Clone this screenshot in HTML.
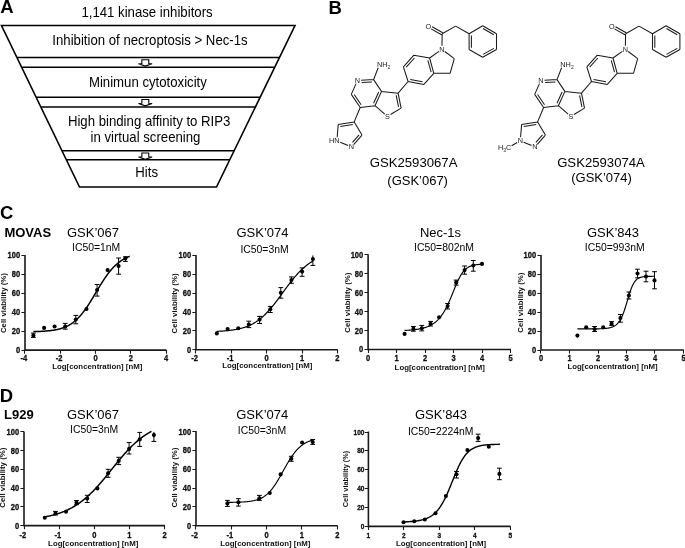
<!DOCTYPE html>
<html><head><meta charset="utf-8"><style>
html,body{margin:0;padding:0;background:#fff;}
body{width:685px;height:548px;overflow:hidden;}
svg{display:block;will-change:transform;font-family:"Liberation Sans", sans-serif;}
</style></head><body>
<svg width="685" height="548" viewBox="0 0 685 548">
<rect width="685" height="548" fill="#fff"/>
<text transform="translate(0.20,12.90) scale(1,1.04)" font-size="18.5" font-weight="bold" text-anchor="start" fill="#000" >A</text>
<text transform="translate(328.40,13.70) scale(1,1.04)" font-size="18.5" font-weight="bold" text-anchor="start" fill="#000" >B</text>
<text transform="translate(0.00,219.20) scale(1,1.04)" font-size="18.5" font-weight="bold" text-anchor="start" fill="#000" >C</text>
<text transform="translate(-0.30,401.70) scale(1,1.04)" font-size="18.5" font-weight="bold" text-anchor="start" fill="#000" >D</text>
<text transform="translate(4.40,236.60) scale(1,1.04)" font-size="13" font-weight="bold" text-anchor="start" fill="#000" >MOVAS</text>
<text transform="translate(4.00,418.90) scale(1,1.04)" font-size="13" font-weight="bold" text-anchor="start" fill="#000" >L929</text>
<polygon points="1.5,25.5 295,25.5 216.5,187 79.5,187" fill="none" stroke="#000" stroke-width="1.6" stroke-linejoin="miter"/>
<line x1="16.96" y1="57.50" x2="279.45" y2="57.50" stroke="#000" stroke-width="1.6" />
<line x1="21.69" y1="67.30" x2="274.68" y2="67.30" stroke="#000" stroke-width="1.6" />
<line x1="36.13" y1="97.20" x2="260.15" y2="97.20" stroke="#000" stroke-width="1.6" />
<line x1="40.86" y1="107.00" x2="255.39" y2="107.00" stroke="#000" stroke-width="1.6" />
<line x1="61.97" y1="150.70" x2="234.14" y2="150.70" stroke="#000" stroke-width="1.6" />
<line x1="66.36" y1="159.80" x2="229.72" y2="159.80" stroke="#000" stroke-width="1.6" />
<polygon points="141.85,59.80 148.75,59.80 148.75,63.50 152.10,63.80 145.30,66.10 138.50,63.80 141.85,63.50" fill="#fff" stroke="#000" stroke-width="1.1" stroke-linejoin="miter"/>
<polygon points="141.85,99.50 148.75,99.50 148.75,103.20 152.10,103.50 145.30,105.80 138.50,103.50 141.85,103.20" fill="#fff" stroke="#000" stroke-width="1.1" stroke-linejoin="miter"/>
<polygon points="141.85,153.00 148.75,153.00 148.75,156.70 152.10,157.00 145.30,159.30 138.50,157.00 141.85,156.70" fill="#fff" stroke="#000" stroke-width="1.1" stroke-linejoin="miter"/>
<text transform="translate(81.40,16.50) scale(1,1.04)" font-size="13.2" font-weight="normal" text-anchor="start" fill="#000" >1,141 kinase inhibitors</text>
<text transform="translate(52.30,45.00) scale(1,1.04)" font-size="13.2" font-weight="normal" text-anchor="start" fill="#000" >Inhibition of necroptosis &gt; Nec-1s</text>
<text transform="translate(88.90,86.80) scale(1,1.04)" font-size="13.2" font-weight="normal" text-anchor="start" fill="#000" >Minimun cytotoxicity</text>
<text transform="translate(67.90,126.30) scale(1,1.04)" font-size="13.2" font-weight="normal" text-anchor="start" fill="#000" >High binding affinity to RIP3</text>
<text transform="translate(90.50,142.10) scale(1,1.04)" font-size="13.2" font-weight="normal" text-anchor="start" fill="#000" >in virtual screening</text>
<text transform="translate(135.30,177.10) scale(1,1.04)" font-size="13.2" font-weight="normal" text-anchor="start" fill="#000" >Hits</text>
<path d="M432.11,26.83L442.75,32.69 M431.00,28.84L441.65,34.71 M442.20,33.70L455.60,26.10 M455.60,26.10L469.10,33.70 M469.10,33.70L482.70,25.70 M482.70,25.70L496.50,33.70 M483.06,28.57L493.83,34.81 M496.50,33.70L496.50,49.50 M496.50,49.50L482.70,57.20 M493.86,48.34L483.10,54.34 M482.70,57.20L469.10,49.50 M469.10,49.50L469.10,33.70 M471.40,47.76L471.40,35.44 M442.20,33.70L441.97,45.70 M438.96,51.38L429.60,58.00 M444.78,51.46L454.30,58.60 M454.30,58.60L450.10,73.30 M450.10,73.30L433.80,73.30 M433.80,73.30L429.60,58.00 M431.12,72.23L427.84,60.29 M429.60,58.00L413.90,55.20 M413.90,55.20L403.40,66.90 M414.46,58.02L406.27,67.15 M403.40,66.90L408.10,81.50 M408.10,81.50L423.90,84.40 M410.25,79.56L422.58,81.82 M423.90,84.40L433.80,73.30 M408.10,81.50L398.10,93.20 M398.10,93.20L401.10,108.10 M396.18,95.29L398.52,106.91 M401.10,108.10L390.57,114.52 M384.77,114.06L375.00,105.70 M375.00,105.70L381.50,91.40 M373.62,103.18L378.69,92.02 M381.50,91.40L398.10,93.20 M381.50,91.40L373.60,79.60 M373.60,79.60L378.20,67.76 M373.60,79.60L361.10,80.18 M371.94,81.98L361.70,82.46 M356.05,83.64L351.30,94.40 M351.30,94.40L360.20,107.50 M354.18,94.55L361.12,104.77 M360.20,107.50L375.00,105.70 M360.20,107.50L354.20,121.90 M354.20,121.90L338.20,124.60 M352.82,124.46L340.34,126.57 M338.20,124.60L337.19,137.21 M340.21,142.21L348.19,145.59 M353.88,144.30L362.00,135.10 M352.49,142.40L359.12,134.89 M362.00,135.10L354.20,121.90" stroke="#1a1a1a" stroke-width="1.05" fill="none" stroke-linecap="butt"/>
<text transform="translate(428.40,28.55) scale(1,1.04)" font-size="7.3" font-weight="normal" text-anchor="middle" fill="#1a1a1a" >O</text>
<text transform="translate(441.90,51.75) scale(1,1.04)" font-size="7.3" font-weight="normal" text-anchor="middle" fill="#1a1a1a" >N</text>
<text transform="translate(387.50,118.85) scale(1,1.04)" font-size="7.3" font-weight="normal" text-anchor="middle" fill="#1a1a1a" >S</text>
<text transform="translate(357.50,82.80) scale(1,1.04)" font-size="7.3" font-weight="normal" text-anchor="middle" fill="#1a1a1a" >N</text>
<text transform="translate(351.50,149.45) scale(1,1.04)" font-size="7.3" font-weight="normal" text-anchor="middle" fill="#1a1a1a" >N</text>
<text transform="translate(376.95,66.85) scale(1,1.04)" font-size="7.3" fill="#1a1a1a">NH<tspan font-size="5" dy="2">2</tspan></text>
<text transform="translate(339.45,143.25) scale(1,1.04)" font-size="7.3" font-weight="normal" text-anchor="end" fill="#1a1a1a" >HN</text>
<path d="M615.51,26.83L626.15,32.69 M614.40,28.84L625.05,34.71 M625.60,33.70L639.00,26.10 M639.00,26.10L652.50,33.70 M652.50,33.70L666.10,25.70 M666.10,25.70L679.90,33.70 M666.46,28.57L677.23,34.81 M679.90,33.70L679.90,49.50 M679.90,49.50L666.10,57.20 M677.26,48.34L666.50,54.34 M666.10,57.20L652.50,49.50 M652.50,49.50L652.50,33.70 M654.80,47.76L654.80,35.44 M625.60,33.70L625.37,45.70 M622.36,51.38L613.00,58.00 M628.18,51.46L637.70,58.60 M637.70,58.60L633.50,73.30 M633.50,73.30L617.20,73.30 M617.20,73.30L613.00,58.00 M614.52,72.23L611.24,60.29 M613.00,58.00L597.30,55.20 M597.30,55.20L586.80,66.90 M597.86,58.02L589.67,67.15 M586.80,66.90L591.50,81.50 M591.50,81.50L607.30,84.40 M593.65,79.56L605.98,81.82 M607.30,84.40L617.20,73.30 M591.50,81.50L581.50,93.20 M581.50,93.20L584.50,108.10 M579.58,95.29L581.92,106.91 M584.50,108.10L573.97,114.52 M568.17,114.06L558.40,105.70 M558.40,105.70L564.90,91.40 M557.02,103.18L562.09,92.02 M564.90,91.40L581.50,93.20 M564.90,91.40L557.00,79.60 M557.00,79.60L561.60,67.76 M557.00,79.60L544.50,80.18 M555.34,81.98L545.10,82.46 M539.45,83.64L534.70,94.40 M534.70,94.40L543.60,107.50 M537.58,94.55L544.52,104.77 M543.60,107.50L558.40,105.70 M543.60,107.50L537.60,121.90 M537.60,121.90L521.60,124.60 M536.22,124.46L523.74,126.57 M521.60,124.60L520.59,137.21 M523.61,142.21L531.59,145.59 M537.28,144.30L545.40,135.10 M535.89,142.40L542.52,134.89 M545.40,135.10L537.60,121.90" stroke="#1a1a1a" stroke-width="1.05" fill="none" stroke-linecap="butt"/>
<text transform="translate(611.80,28.55) scale(1,1.04)" font-size="7.3" font-weight="normal" text-anchor="middle" fill="#1a1a1a" >O</text>
<text transform="translate(625.30,51.75) scale(1,1.04)" font-size="7.3" font-weight="normal" text-anchor="middle" fill="#1a1a1a" >N</text>
<text transform="translate(570.90,118.85) scale(1,1.04)" font-size="7.3" font-weight="normal" text-anchor="middle" fill="#1a1a1a" >S</text>
<text transform="translate(540.90,82.80) scale(1,1.04)" font-size="7.3" font-weight="normal" text-anchor="middle" fill="#1a1a1a" >N</text>
<text transform="translate(534.90,149.45) scale(1,1.04)" font-size="7.3" font-weight="normal" text-anchor="middle" fill="#1a1a1a" >N</text>
<text transform="translate(560.35,66.85) scale(1,1.04)" font-size="7.3" fill="#1a1a1a">NH<tspan font-size="5" dy="2">2</tspan></text>
<text transform="translate(520.30,143.25) scale(1,1.04)" font-size="7.3" font-weight="normal" text-anchor="middle" fill="#1a1a1a" >N</text>
<path d="M517.16,142.56L511.61,145.67" stroke="#1a1a1a" stroke-width="1.05"/>
<text transform="translate(511.20,149.70) scale(1,1.04)" font-size="7.3" text-anchor="end" fill="#1a1a1a">H<tspan font-size="5" dy="2">3</tspan><tspan dy="-2">C</tspan></text>
<text transform="translate(369.75,166.90) scale(1,1.04)" font-size="13.15" font-weight="normal" text-anchor="start" fill="#000" >GSK2593067A</text>
<text transform="translate(387.30,184.50) scale(1,1.04)" font-size="13" font-weight="normal" text-anchor="start" fill="#000" >(GSK’067)</text>
<text transform="translate(557.15,166.90) scale(1,1.04)" font-size="13.15" font-weight="normal" text-anchor="start" fill="#000" >GSK2593074A</text>
<text transform="translate(571.20,181.80) scale(1,1.04)" font-size="13" font-weight="normal" text-anchor="start" fill="#000" >(GSK’074)</text>
<path d="M25.00,254.90L25.00,350.10L166.50,350.10" stroke="#1a1a1a" stroke-width="1.6" fill="none" stroke-linejoin="miter"/>
<path d="M21.40,350.50L25.00,350.50M21.40,331.50L25.00,331.50M21.40,312.50L25.00,312.50M21.40,293.50L25.00,293.50M21.40,274.50L25.00,274.50M21.40,255.50L25.00,255.50M24.50,350.10L24.50,353.70M60.50,350.10L60.50,353.70M95.50,350.10L95.50,353.70M130.50,350.10L130.50,353.70M166.50,350.10L166.50,353.70" stroke="#1a1a1a" stroke-width="1.1" fill="none"/>
<text transform="translate(20.10,353.09) scale(1,1.04)" font-size="8.3" font-weight="bold" text-anchor="end" textLength="4.19" lengthAdjust="spacingAndGlyphs" fill="#111" stroke="#111" stroke-width="0.3">0</text>
<text transform="translate(20.10,334.15) scale(1,1.04)" font-size="8.3" font-weight="bold" text-anchor="end" textLength="8.38" lengthAdjust="spacingAndGlyphs" fill="#111" stroke="#111" stroke-width="0.3">20</text>
<text transform="translate(20.10,315.21) scale(1,1.04)" font-size="8.3" font-weight="bold" text-anchor="end" textLength="8.38" lengthAdjust="spacingAndGlyphs" fill="#111" stroke="#111" stroke-width="0.3">40</text>
<text transform="translate(20.10,296.27) scale(1,1.04)" font-size="8.3" font-weight="bold" text-anchor="end" textLength="8.38" lengthAdjust="spacingAndGlyphs" fill="#111" stroke="#111" stroke-width="0.3">60</text>
<text transform="translate(20.10,277.33) scale(1,1.04)" font-size="8.3" font-weight="bold" text-anchor="end" textLength="8.38" lengthAdjust="spacingAndGlyphs" fill="#111" stroke="#111" stroke-width="0.3">80</text>
<text transform="translate(20.10,258.39) scale(1,1.04)" font-size="8.3" font-weight="bold" text-anchor="end" textLength="12.57" lengthAdjust="spacingAndGlyphs" fill="#111" stroke="#111" stroke-width="0.3">100</text>
<text transform="translate(23.75,361.40) scale(1,1.04)" font-size="8.3" font-weight="bold" text-anchor="middle" textLength="6.70" lengthAdjust="spacingAndGlyphs" fill="#111" stroke="#111" stroke-width="0.3">-4</text>
<text transform="translate(59.02,361.40) scale(1,1.04)" font-size="8.3" font-weight="bold" text-anchor="middle" textLength="6.70" lengthAdjust="spacingAndGlyphs" fill="#111" stroke="#111" stroke-width="0.3">-2</text>
<text transform="translate(95.55,361.40) scale(1,1.04)" font-size="8.3" font-weight="bold" text-anchor="middle" textLength="4.19" lengthAdjust="spacingAndGlyphs" fill="#111" stroke="#111" stroke-width="0.3">0</text>
<text transform="translate(130.82,361.40) scale(1,1.04)" font-size="8.3" font-weight="bold" text-anchor="middle" textLength="4.19" lengthAdjust="spacingAndGlyphs" fill="#111" stroke="#111" stroke-width="0.3">2</text>
<text transform="translate(166.10,361.40) scale(1,1.04)" font-size="8.3" font-weight="bold" text-anchor="middle" textLength="4.19" lengthAdjust="spacingAndGlyphs" fill="#111" stroke="#111" stroke-width="0.3">4</text>
<text transform="translate(52.20,369.30) scale(1,1.04)" font-size="7.3" font-weight="bold" textLength="90.2" lengthAdjust="spacingAndGlyphs" fill="#111">Log[concentration] [nM]</text>
<text transform="translate(6.00,303.10) rotate(-90) scale(1,1.04)" font-size="7.3" font-weight="bold" text-anchor="middle" textLength="60" lengthAdjust="spacingAndGlyphs" fill="#111">Cell viability (%)</text>
<path d="M33.40,331.63 L33.88,331.62 L34.37,331.61 L34.85,331.60 L35.34,331.58 L35.82,331.57 L36.30,331.55 L36.79,331.54 L37.27,331.52 L37.76,331.50 L38.24,331.48 L38.72,331.46 L39.21,331.44 L39.69,331.42 L40.17,331.40 L40.66,331.38 L41.14,331.35 L41.63,331.33 L42.11,331.30 L42.59,331.27 L43.08,331.25 L43.56,331.22 L44.05,331.18 L44.53,331.15 L45.01,331.12 L45.50,331.08 L45.98,331.04 L46.47,331.00 L46.95,330.96 L47.43,330.92 L47.92,330.87 L48.40,330.83 L48.89,330.78 L49.37,330.73 L49.85,330.67 L50.34,330.62 L50.82,330.56 L51.31,330.50 L51.79,330.43 L52.27,330.36 L52.76,330.30 L53.24,330.22 L53.72,330.15 L54.21,330.07 L54.69,329.98 L55.18,329.90 L55.66,329.81 L56.14,329.71 L56.63,329.62 L57.11,329.51 L57.60,329.41 L58.08,329.30 L58.56,329.18 L59.05,329.06 L59.53,328.93 L60.02,328.80 L60.50,328.67 L60.98,328.52 L61.47,328.38 L61.95,328.22 L62.44,328.06 L62.92,327.90 L63.40,327.72 L63.89,327.54 L64.37,327.36 L64.85,327.16 L65.34,326.96 L65.82,326.75 L66.31,326.53 L66.79,326.31 L67.27,326.07 L67.76,325.83 L68.24,325.58 L68.73,325.31 L69.21,325.04 L69.69,324.76 L70.18,324.47 L70.66,324.17 L71.15,323.86 L71.63,323.54 L72.11,323.20 L72.60,322.86 L73.08,322.51 L73.57,322.14 L74.05,321.76 L74.53,321.37 L75.02,320.97 L75.50,320.55 L75.98,320.12 L76.47,319.68 L76.95,319.23 L77.44,318.77 L77.92,318.29 L78.40,317.80 L78.89,317.29 L79.37,316.77 L79.86,316.24 L80.34,315.70 L80.82,315.14 L81.31,314.57 L81.79,313.99 L82.28,313.39 L82.76,312.79 L83.24,312.16 L83.73,311.53 L84.21,310.88 L84.70,310.23 L85.18,309.56 L85.66,308.88 L86.15,308.18 L86.63,307.48 L87.12,306.77 L87.60,306.04 L88.08,305.31 L88.57,304.57 L89.05,303.82 L89.53,303.06 L90.02,302.29 L90.50,301.51 L90.99,300.73 L91.47,299.95 L91.95,299.15 L92.44,298.35 L92.92,297.55 L93.41,296.75 L93.89,295.94 L94.37,295.13 L94.86,294.31 L95.34,293.50 L95.83,292.69 L96.31,291.87 L96.79,291.06 L97.28,290.25 L97.76,289.44 L98.25,288.63 L98.73,287.83 L99.21,287.03 L99.70,286.23 L100.18,285.44 L100.66,284.66 L101.15,283.88 L101.63,283.11 L102.12,282.34 L102.60,281.59 L103.08,280.84 L103.57,280.10 L104.05,279.37 L104.54,278.65 L105.02,277.94 L105.50,277.23 L105.99,276.54 L106.47,275.86 L106.96,275.19 L107.44,274.53 L107.92,273.89 L108.41,273.25 L108.89,272.63 L109.38,272.01 L109.86,271.41 L110.34,270.82 L110.83,270.25 L111.31,269.68 L111.79,269.13 L112.28,268.59 L112.76,268.06 L113.25,267.55 L113.73,267.04 L114.21,266.55 L114.70,266.07 L115.18,265.60 L115.67,265.15 L116.15,264.70 L116.63,264.27 L117.12,263.85 L117.60,263.43 L118.09,263.03 L118.57,262.65 L119.05,262.27 L119.54,261.90 L120.02,261.54 L120.51,261.19 L120.99,260.86 L121.47,260.53 L121.96,260.21 L122.44,259.90 L122.93,259.61 L123.41,259.32 L123.89,259.03 L124.38,258.76 L124.86,258.50 L125.34,258.24 L125.83,257.99 L126.31,257.75 L126.80,257.52 L127.28,257.30 L127.76,257.08 L128.25,256.87 L128.73,256.66 L129.22,256.47 L129.70,256.27" stroke="#000" stroke-width="1.5" fill="none" stroke-linejoin="round"/>
<path d="M33.40,333.10L33.40,337.40M31.00,337.40L35.80,337.40M31.00,333.10L35.80,333.10M65.20,323.40L65.20,329.20M62.80,329.20L67.60,329.20M62.80,323.40L67.60,323.40M75.80,315.40L75.80,323.80M73.40,323.80L78.20,323.80M73.40,315.40L78.20,315.40M97.10,284.50L97.10,296.10M94.70,296.10L99.50,296.10M94.70,284.50L99.50,284.50M118.60,258.00L118.60,274.20M116.20,274.20L121.00,274.20M116.20,258.00L121.00,258.00M125.40,256.80L125.40,261.40M123.00,261.40L127.80,261.40M123.00,256.80L127.80,256.80" stroke="#000" stroke-width="1.0" fill="none"/>
<circle cx="33.40" cy="335.40" r="2.05" fill="#000"/>
<circle cx="44.10" cy="327.90" r="2.05" fill="#000"/>
<circle cx="54.60" cy="326.50" r="2.05" fill="#000"/>
<circle cx="65.20" cy="326.50" r="2.05" fill="#000"/>
<circle cx="75.80" cy="319.50" r="2.05" fill="#000"/>
<circle cx="86.50" cy="309.00" r="2.05" fill="#000"/>
<circle cx="97.10" cy="290.00" r="2.05" fill="#000"/>
<circle cx="107.60" cy="270.10" r="2.05" fill="#000"/>
<circle cx="118.60" cy="266.10" r="2.05" fill="#000"/>
<circle cx="125.40" cy="258.40" r="2.05" fill="#000"/>
<text transform="translate(67.00,236.80) scale(1,1.04)" font-size="13" font-weight="normal" text-anchor="start" fill="#000" >GSK’067</text>
<text transform="translate(72.00,251.00) scale(1,1.04)" font-size="10.4" font-weight="normal" text-anchor="start" fill="#000" >IC50=1nM</text>
<path d="M196.00,254.90L196.00,349.80L337.80,349.80" stroke="#1a1a1a" stroke-width="1.6" fill="none" stroke-linejoin="miter"/>
<path d="M192.40,349.50L196.00,349.50M192.40,330.50L196.00,330.50M192.40,312.50L196.00,312.50M192.40,293.50L196.00,293.50M192.40,274.50L196.00,274.50M192.40,255.50L196.00,255.50M195.50,349.80L195.50,353.40M231.50,349.80L231.50,353.40M266.50,349.80L266.50,353.40M302.50,349.80L302.50,353.40M337.50,349.80L337.50,353.40" stroke="#1a1a1a" stroke-width="1.1" fill="none"/>
<text transform="translate(191.10,352.79) scale(1,1.04)" font-size="8.3" font-weight="bold" text-anchor="end" textLength="4.19" lengthAdjust="spacingAndGlyphs" fill="#111" stroke="#111" stroke-width="0.3">0</text>
<text transform="translate(191.10,333.91) scale(1,1.04)" font-size="8.3" font-weight="bold" text-anchor="end" textLength="8.38" lengthAdjust="spacingAndGlyphs" fill="#111" stroke="#111" stroke-width="0.3">20</text>
<text transform="translate(191.10,315.03) scale(1,1.04)" font-size="8.3" font-weight="bold" text-anchor="end" textLength="8.38" lengthAdjust="spacingAndGlyphs" fill="#111" stroke="#111" stroke-width="0.3">40</text>
<text transform="translate(191.10,296.15) scale(1,1.04)" font-size="8.3" font-weight="bold" text-anchor="end" textLength="8.38" lengthAdjust="spacingAndGlyphs" fill="#111" stroke="#111" stroke-width="0.3">60</text>
<text transform="translate(191.10,277.27) scale(1,1.04)" font-size="8.3" font-weight="bold" text-anchor="end" textLength="8.38" lengthAdjust="spacingAndGlyphs" fill="#111" stroke="#111" stroke-width="0.3">80</text>
<text transform="translate(191.10,258.39) scale(1,1.04)" font-size="8.3" font-weight="bold" text-anchor="end" textLength="12.57" lengthAdjust="spacingAndGlyphs" fill="#111" stroke="#111" stroke-width="0.3">100</text>
<text transform="translate(194.65,361.40) scale(1,1.04)" font-size="8.3" font-weight="bold" text-anchor="middle" textLength="6.70" lengthAdjust="spacingAndGlyphs" fill="#111" stroke="#111" stroke-width="0.3">-2</text>
<text transform="translate(230.02,361.40) scale(1,1.04)" font-size="8.3" font-weight="bold" text-anchor="middle" textLength="6.70" lengthAdjust="spacingAndGlyphs" fill="#111" stroke="#111" stroke-width="0.3">-1</text>
<text transform="translate(266.65,361.40) scale(1,1.04)" font-size="8.3" font-weight="bold" text-anchor="middle" textLength="4.19" lengthAdjust="spacingAndGlyphs" fill="#111" stroke="#111" stroke-width="0.3">0</text>
<text transform="translate(302.02,361.40) scale(1,1.04)" font-size="8.3" font-weight="bold" text-anchor="middle" textLength="4.19" lengthAdjust="spacingAndGlyphs" fill="#111" stroke="#111" stroke-width="0.3">1</text>
<text transform="translate(337.40,361.40) scale(1,1.04)" font-size="8.3" font-weight="bold" text-anchor="middle" textLength="4.19" lengthAdjust="spacingAndGlyphs" fill="#111" stroke="#111" stroke-width="0.3">2</text>
<text transform="translate(222.20,368.20) scale(1,1.04)" font-size="7.3" font-weight="bold" textLength="90.2" lengthAdjust="spacingAndGlyphs" fill="#111">Log[concentration] [nM]</text>
<text transform="translate(177.00,303.50) rotate(-90) scale(1,1.04)" font-size="7.3" font-weight="bold" text-anchor="middle" textLength="60" lengthAdjust="spacingAndGlyphs" fill="#111">Cell viability (%)</text>
<path d="M216.80,331.35 L217.28,331.33 L217.77,331.31 L218.25,331.28 L218.73,331.26 L219.21,331.23 L219.70,331.21 L220.18,331.18 L220.66,331.15 L221.15,331.12 L221.63,331.09 L222.11,331.06 L222.59,331.03 L223.08,331.00 L223.56,330.96 L224.04,330.93 L224.53,330.89 L225.01,330.85 L225.49,330.81 L225.98,330.77 L226.46,330.72 L226.94,330.68 L227.42,330.63 L227.91,330.58 L228.39,330.53 L228.87,330.48 L229.36,330.43 L229.84,330.37 L230.32,330.31 L230.80,330.25 L231.29,330.19 L231.77,330.13 L232.25,330.06 L232.74,329.99 L233.22,329.92 L233.70,329.85 L234.18,329.77 L234.67,329.69 L235.15,329.61 L235.63,329.52 L236.12,329.44 L236.60,329.35 L237.08,329.25 L237.57,329.15 L238.05,329.05 L238.53,328.95 L239.01,328.84 L239.50,328.73 L239.98,328.62 L240.46,328.50 L240.95,328.37 L241.43,328.25 L241.91,328.12 L242.39,327.98 L242.88,327.84 L243.36,327.70 L243.84,327.55 L244.33,327.39 L244.81,327.23 L245.29,327.07 L245.77,326.90 L246.26,326.73 L246.74,326.55 L247.22,326.36 L247.71,326.17 L248.19,325.97 L248.67,325.77 L249.16,325.56 L249.64,325.35 L250.12,325.13 L250.60,324.90 L251.09,324.66 L251.57,324.42 L252.05,324.17 L252.54,323.92 L253.02,323.66 L253.50,323.39 L253.98,323.11 L254.47,322.83 L254.95,322.53 L255.43,322.23 L255.92,321.93 L256.40,321.61 L256.88,321.29 L257.36,320.96 L257.85,320.62 L258.33,320.27 L258.81,319.91 L259.30,319.55 L259.78,319.17 L260.26,318.79 L260.75,318.40 L261.23,318.00 L261.71,317.59 L262.19,317.18 L262.68,316.75 L263.16,316.32 L263.64,315.88 L264.13,315.43 L264.61,314.97 L265.09,314.50 L265.57,314.02 L266.06,313.53 L266.54,313.04 L267.02,312.54 L267.51,312.03 L267.99,311.51 L268.47,310.98 L268.95,310.44 L269.44,309.90 L269.92,309.35 L270.40,308.79 L270.89,308.23 L271.37,307.65 L271.85,307.07 L272.34,306.49 L272.82,305.90 L273.30,305.30 L273.78,304.69 L274.27,304.08 L274.75,303.46 L275.23,302.84 L275.72,302.21 L276.20,301.58 L276.68,300.95 L277.16,300.31 L277.65,299.66 L278.13,299.02 L278.61,298.36 L279.10,297.71 L279.58,297.05 L280.06,296.40 L280.54,295.74 L281.03,295.08 L281.51,294.41 L281.99,293.75 L282.48,293.09 L282.96,292.42 L283.44,291.76 L283.93,291.09 L284.41,290.43 L284.89,289.77 L285.37,289.11 L285.86,288.45 L286.34,287.80 L286.82,287.15 L287.31,286.50 L287.79,285.85 L288.27,285.21 L288.75,284.57 L289.24,283.93 L289.72,283.30 L290.20,282.67 L290.69,282.05 L291.17,281.44 L291.65,280.83 L292.13,280.22 L292.62,279.62 L293.10,279.03 L293.58,278.44 L294.07,277.86 L294.55,277.28 L295.03,276.72 L295.52,276.15 L296.00,275.60 L296.48,275.05 L296.96,274.51 L297.45,273.98 L297.93,273.46 L298.41,272.94 L298.90,272.43 L299.38,271.93 L299.86,271.43 L300.34,270.95 L300.83,270.47 L301.31,270.00 L301.79,269.54 L302.28,269.08 L302.76,268.63 L303.24,268.20 L303.72,267.76 L304.21,267.34 L304.69,266.93 L305.17,266.52 L305.66,266.12 L306.14,265.73 L306.62,265.34 L307.11,264.97 L307.59,264.60 L308.07,264.24 L308.55,263.89 L309.04,263.54 L309.52,263.20 L310.00,262.87 L310.49,262.55 L310.97,262.23 L311.45,261.92 L311.93,261.62 L312.42,261.32 L312.90,261.03" stroke="#000" stroke-width="1.2" fill="none" stroke-linejoin="round"/>
<path d="M248.80,321.20L248.80,327.60M246.40,327.60L251.20,327.60M246.40,321.20L251.20,321.20M259.60,316.40L259.60,323.50M257.20,323.50L262.00,323.50M257.20,316.40L262.00,316.40M270.30,306.40L270.30,312.50M267.90,312.50L272.70,312.50M267.90,306.40L272.70,306.40M280.80,287.60L280.80,298.20M278.40,298.20L283.20,298.20M278.40,287.60L283.20,287.60M291.40,276.90L291.40,283.30M289.00,283.30L293.80,283.30M289.00,276.90L293.80,276.90M302.10,267.90L302.10,276.30M299.70,276.30L304.50,276.30M299.70,267.90L304.50,267.90M312.90,255.40L312.90,265.40M310.50,265.40L315.30,265.40" stroke="#000" stroke-width="1.0" fill="none"/>
<circle cx="216.80" cy="333.40" r="2.05" fill="#000"/>
<circle cx="227.60" cy="329.10" r="2.05" fill="#000"/>
<circle cx="238.30" cy="328.30" r="2.05" fill="#000"/>
<circle cx="248.80" cy="324.50" r="2.05" fill="#000"/>
<circle cx="259.60" cy="319.60" r="2.05" fill="#000"/>
<circle cx="270.30" cy="309.20" r="2.05" fill="#000"/>
<circle cx="280.80" cy="292.70" r="2.05" fill="#000"/>
<circle cx="291.40" cy="280.10" r="2.05" fill="#000"/>
<circle cx="302.10" cy="271.60" r="2.05" fill="#000"/>
<circle cx="312.90" cy="259.00" r="2.05" fill="#000"/>
<text transform="translate(236.50,236.60) scale(1,1.04)" font-size="13" font-weight="normal" text-anchor="start" fill="#000" >GSK’074</text>
<text transform="translate(240.40,252.60) scale(1,1.04)" font-size="10.4" font-weight="normal" text-anchor="start" fill="#000" >IC50=3nM</text>
<path d="M368.10,254.20L368.10,349.50L511.00,349.50" stroke="#1a1a1a" stroke-width="1.6" fill="none" stroke-linejoin="miter"/>
<path d="M364.50,349.50L368.10,349.50M364.50,330.50L368.10,330.50M364.50,311.50L368.10,311.50M364.50,292.50L368.10,292.50M364.50,273.50L368.10,273.50M364.50,254.50L368.10,254.50M368.50,349.50L368.50,353.10M396.50,349.50L396.50,353.10M425.50,349.50L425.50,353.10M453.50,349.50L453.50,353.10M482.50,349.50L482.50,353.10M510.50,349.50L510.50,353.10" stroke="#1a1a1a" stroke-width="1.1" fill="none"/>
<text transform="translate(363.20,352.49) scale(1,1.04)" font-size="8.3" font-weight="bold" text-anchor="end" textLength="4.19" lengthAdjust="spacingAndGlyphs" fill="#111" stroke="#111" stroke-width="0.3">0</text>
<text transform="translate(363.20,333.53) scale(1,1.04)" font-size="8.3" font-weight="bold" text-anchor="end" textLength="8.38" lengthAdjust="spacingAndGlyphs" fill="#111" stroke="#111" stroke-width="0.3">20</text>
<text transform="translate(363.20,314.57) scale(1,1.04)" font-size="8.3" font-weight="bold" text-anchor="end" textLength="8.38" lengthAdjust="spacingAndGlyphs" fill="#111" stroke="#111" stroke-width="0.3">40</text>
<text transform="translate(363.20,295.61) scale(1,1.04)" font-size="8.3" font-weight="bold" text-anchor="end" textLength="8.38" lengthAdjust="spacingAndGlyphs" fill="#111" stroke="#111" stroke-width="0.3">60</text>
<text transform="translate(363.20,276.65) scale(1,1.04)" font-size="8.3" font-weight="bold" text-anchor="end" textLength="8.38" lengthAdjust="spacingAndGlyphs" fill="#111" stroke="#111" stroke-width="0.3">80</text>
<text transform="translate(363.20,257.69) scale(1,1.04)" font-size="8.3" font-weight="bold" text-anchor="end" textLength="12.57" lengthAdjust="spacingAndGlyphs" fill="#111" stroke="#111" stroke-width="0.3">100</text>
<text transform="translate(368.10,361.40) scale(1,1.04)" font-size="8.3" font-weight="bold" text-anchor="middle" textLength="4.19" lengthAdjust="spacingAndGlyphs" fill="#111" stroke="#111" stroke-width="0.3">0</text>
<text transform="translate(396.60,361.40) scale(1,1.04)" font-size="8.3" font-weight="bold" text-anchor="middle" textLength="4.19" lengthAdjust="spacingAndGlyphs" fill="#111" stroke="#111" stroke-width="0.3">1</text>
<text transform="translate(425.10,361.40) scale(1,1.04)" font-size="8.3" font-weight="bold" text-anchor="middle" textLength="4.19" lengthAdjust="spacingAndGlyphs" fill="#111" stroke="#111" stroke-width="0.3">2</text>
<text transform="translate(453.60,361.40) scale(1,1.04)" font-size="8.3" font-weight="bold" text-anchor="middle" textLength="4.19" lengthAdjust="spacingAndGlyphs" fill="#111" stroke="#111" stroke-width="0.3">3</text>
<text transform="translate(482.10,361.40) scale(1,1.04)" font-size="8.3" font-weight="bold" text-anchor="middle" textLength="4.19" lengthAdjust="spacingAndGlyphs" fill="#111" stroke="#111" stroke-width="0.3">4</text>
<text transform="translate(510.60,361.40) scale(1,1.04)" font-size="8.3" font-weight="bold" text-anchor="middle" textLength="4.19" lengthAdjust="spacingAndGlyphs" fill="#111" stroke="#111" stroke-width="0.3">5</text>
<text transform="translate(394.60,369.50) scale(1,1.04)" font-size="7.3" font-weight="bold" textLength="90.2" lengthAdjust="spacingAndGlyphs" fill="#111">Log[concentration] [nM]</text>
<text transform="translate(350.40,302.70) rotate(-90) scale(1,1.04)" font-size="7.3" font-weight="bold" text-anchor="middle" textLength="60" lengthAdjust="spacingAndGlyphs" fill="#111">Cell viability (%)</text>
<path d="M404.60,330.42 L404.99,330.40 L405.38,330.39 L405.77,330.37 L406.16,330.35 L406.54,330.32 L406.93,330.30 L407.32,330.28 L407.71,330.26 L408.10,330.23 L408.49,330.21 L408.88,330.18 L409.27,330.15 L409.66,330.12 L410.05,330.09 L410.43,330.06 L410.82,330.03 L411.21,330.00 L411.60,329.97 L411.99,329.93 L412.38,329.89 L412.77,329.86 L413.16,329.82 L413.55,329.78 L413.93,329.73 L414.32,329.69 L414.71,329.64 L415.10,329.60 L415.49,329.55 L415.88,329.50 L416.27,329.44 L416.66,329.39 L417.05,329.33 L417.44,329.27 L417.82,329.21 L418.21,329.15 L418.60,329.08 L418.99,329.02 L419.38,328.94 L419.77,328.87 L420.16,328.80 L420.55,328.72 L420.94,328.64 L421.32,328.55 L421.71,328.46 L422.10,328.37 L422.49,328.28 L422.88,328.18 L423.27,328.08 L423.66,327.97 L424.05,327.86 L424.44,327.75 L424.83,327.63 L425.21,327.51 L425.60,327.39 L425.99,327.25 L426.38,327.12 L426.77,326.98 L427.16,326.83 L427.55,326.68 L427.94,326.52 L428.33,326.36 L428.71,326.19 L429.10,326.02 L429.49,325.84 L429.88,325.65 L430.27,325.46 L430.66,325.25 L431.05,325.04 L431.44,324.83 L431.83,324.60 L432.22,324.37 L432.60,324.13 L432.99,323.88 L433.38,323.62 L433.77,323.35 L434.16,323.08 L434.55,322.79 L434.94,322.49 L435.33,322.18 L435.72,321.86 L436.10,321.53 L436.49,321.19 L436.88,320.83 L437.27,320.47 L437.66,320.09 L438.05,319.69 L438.44,319.29 L438.83,318.87 L439.22,318.43 L439.61,317.98 L439.99,317.52 L440.38,317.04 L440.77,316.54 L441.16,316.03 L441.55,315.50 L441.94,314.96 L442.33,314.40 L442.72,313.82 L443.11,313.22 L443.49,312.61 L443.88,311.98 L444.27,311.32 L444.66,310.66 L445.05,309.97 L445.44,309.26 L445.83,308.54 L446.22,307.79 L446.61,307.03 L446.99,306.25 L447.38,305.45 L447.77,304.64 L448.16,303.81 L448.55,302.96 L448.94,302.10 L449.33,301.22 L449.72,300.32 L450.11,299.42 L450.50,298.50 L450.88,297.57 L451.27,296.63 L451.66,295.69 L452.05,294.73 L452.44,293.77 L452.83,292.81 L453.22,291.85 L453.61,290.89 L454.00,289.92 L454.38,288.97 L454.77,288.01 L455.16,287.07 L455.55,286.13 L455.94,285.21 L456.33,284.30 L456.72,283.40 L457.11,282.52 L457.50,281.66 L457.89,280.82 L458.27,280.00 L458.66,279.20 L459.05,278.42 L459.44,277.67 L459.83,276.95 L460.22,276.24 L460.61,275.57 L461.00,274.92 L461.39,274.29 L461.77,273.70 L462.16,273.13 L462.55,272.58 L462.94,272.06 L463.33,271.57 L463.72,271.10 L464.11,270.65 L464.50,270.23 L464.89,269.83 L465.28,269.45 L465.66,269.10 L466.05,268.76 L466.44,268.45 L466.83,268.15 L467.22,267.87 L467.61,267.61 L468.00,267.36 L468.39,267.13 L468.78,266.92 L469.16,266.72 L469.55,266.53 L469.94,266.35 L470.33,266.19 L470.72,266.03 L471.11,265.89 L471.50,265.75 L471.89,265.63 L472.28,265.51 L472.67,265.41 L473.05,265.31 L473.44,265.21 L473.83,265.12 L474.22,265.04 L474.61,264.97 L475.00,264.90 L475.39,264.83 L475.78,264.77 L476.17,264.72 L476.55,264.66 L476.94,264.62 L477.33,264.57 L477.72,264.53 L478.11,264.49 L478.50,264.45 L478.89,264.42 L479.28,264.39 L479.67,264.36 L480.06,264.33 L480.44,264.31 L480.83,264.29 L481.22,264.27 L481.61,264.25 L482.00,264.23" stroke="#000" stroke-width="1.15" fill="none" stroke-linejoin="round"/>
<path d="M413.40,326.50L413.40,331.20M411.00,331.20L415.80,331.20M411.00,326.50L415.80,326.50M421.80,325.40L421.80,330.90M419.40,330.90L424.20,330.90M419.40,325.40L424.20,325.40M430.60,321.40L430.60,326.00M428.20,326.00L433.00,326.00M428.20,321.40L433.00,321.40M447.60,303.50L447.60,309.00M445.20,309.00L450.00,309.00M445.20,303.50L450.00,303.50M456.20,280.10L456.20,285.10M453.80,285.10L458.60,285.10M453.80,280.10L458.60,280.10M464.60,266.00L464.60,274.20M462.20,274.20L467.00,274.20M462.20,266.00L467.00,266.00M473.30,260.50L473.30,271.20M470.90,271.20L475.70,271.20M470.90,260.50L475.70,260.50" stroke="#000" stroke-width="1.0" fill="none"/>
<circle cx="404.60" cy="333.90" r="2.05" fill="#000"/>
<circle cx="413.40" cy="328.90" r="2.05" fill="#000"/>
<circle cx="421.80" cy="328.20" r="2.05" fill="#000"/>
<circle cx="430.60" cy="323.80" r="2.05" fill="#000"/>
<circle cx="439.10" cy="317.20" r="2.05" fill="#000"/>
<circle cx="447.60" cy="306.10" r="2.05" fill="#000"/>
<circle cx="456.20" cy="282.40" r="2.05" fill="#000"/>
<circle cx="464.60" cy="270.10" r="2.05" fill="#000"/>
<circle cx="473.30" cy="265.50" r="2.05" fill="#000"/>
<circle cx="482.00" cy="263.90" r="2.05" fill="#000"/>
<text transform="translate(419.90,236.60) scale(1,1.04)" font-size="13" font-weight="normal" text-anchor="start" fill="#000" >Nec-1s</text>
<text transform="translate(414.10,251.40) scale(1,1.04)" font-size="10.4" font-weight="normal" text-anchor="start" fill="#000" >IC50=802nM</text>
<path d="M541.00,255.00L541.00,350.00L683.90,350.00" stroke="#1a1a1a" stroke-width="1.6" fill="none" stroke-linejoin="miter"/>
<path d="M537.40,350.50L541.00,350.50M537.40,331.50L541.00,331.50M537.40,312.50L541.00,312.50M537.40,293.50L541.00,293.50M537.40,274.50L541.00,274.50M537.40,255.50L541.00,255.50M540.50,350.00L540.50,353.60M569.50,350.00L569.50,353.60M598.50,350.00L598.50,353.60M626.50,350.00L626.50,353.60M654.50,350.00L654.50,353.60M683.50,350.00L683.50,353.60" stroke="#1a1a1a" stroke-width="1.1" fill="none"/>
<text transform="translate(536.10,352.99) scale(1,1.04)" font-size="8.3" font-weight="bold" text-anchor="end" textLength="4.19" lengthAdjust="spacingAndGlyphs" fill="#111" stroke="#111" stroke-width="0.3">0</text>
<text transform="translate(536.10,334.09) scale(1,1.04)" font-size="8.3" font-weight="bold" text-anchor="end" textLength="8.38" lengthAdjust="spacingAndGlyphs" fill="#111" stroke="#111" stroke-width="0.3">20</text>
<text transform="translate(536.10,315.19) scale(1,1.04)" font-size="8.3" font-weight="bold" text-anchor="end" textLength="8.38" lengthAdjust="spacingAndGlyphs" fill="#111" stroke="#111" stroke-width="0.3">40</text>
<text transform="translate(536.10,296.29) scale(1,1.04)" font-size="8.3" font-weight="bold" text-anchor="end" textLength="8.38" lengthAdjust="spacingAndGlyphs" fill="#111" stroke="#111" stroke-width="0.3">60</text>
<text transform="translate(536.10,277.39) scale(1,1.04)" font-size="8.3" font-weight="bold" text-anchor="end" textLength="8.38" lengthAdjust="spacingAndGlyphs" fill="#111" stroke="#111" stroke-width="0.3">80</text>
<text transform="translate(536.10,258.49) scale(1,1.04)" font-size="8.3" font-weight="bold" text-anchor="end" textLength="12.57" lengthAdjust="spacingAndGlyphs" fill="#111" stroke="#111" stroke-width="0.3">100</text>
<text transform="translate(541.00,361.40) scale(1,1.04)" font-size="8.3" font-weight="bold" text-anchor="middle" textLength="4.19" lengthAdjust="spacingAndGlyphs" fill="#111" stroke="#111" stroke-width="0.3">0</text>
<text transform="translate(569.50,361.40) scale(1,1.04)" font-size="8.3" font-weight="bold" text-anchor="middle" textLength="4.19" lengthAdjust="spacingAndGlyphs" fill="#111" stroke="#111" stroke-width="0.3">1</text>
<text transform="translate(598.00,361.40) scale(1,1.04)" font-size="8.3" font-weight="bold" text-anchor="middle" textLength="4.19" lengthAdjust="spacingAndGlyphs" fill="#111" stroke="#111" stroke-width="0.3">2</text>
<text transform="translate(626.50,361.40) scale(1,1.04)" font-size="8.3" font-weight="bold" text-anchor="middle" textLength="4.19" lengthAdjust="spacingAndGlyphs" fill="#111" stroke="#111" stroke-width="0.3">3</text>
<text transform="translate(655.00,361.40) scale(1,1.04)" font-size="8.3" font-weight="bold" text-anchor="middle" textLength="4.19" lengthAdjust="spacingAndGlyphs" fill="#111" stroke="#111" stroke-width="0.3">4</text>
<text transform="translate(683.50,361.40) scale(1,1.04)" font-size="8.3" font-weight="bold" text-anchor="middle" textLength="4.19" lengthAdjust="spacingAndGlyphs" fill="#111" stroke="#111" stroke-width="0.3">5</text>
<text transform="translate(567.50,369.40) scale(1,1.04)" font-size="7.3" font-weight="bold" textLength="90.2" lengthAdjust="spacingAndGlyphs" fill="#111">Log[concentration] [nM]</text>
<text transform="translate(522.80,302.70) rotate(-90) scale(1,1.04)" font-size="7.3" font-weight="bold" text-anchor="middle" textLength="60" lengthAdjust="spacingAndGlyphs" fill="#111">Cell viability (%)</text>
<path d="M577.40,328.94 L577.79,328.94 L578.17,328.94 L578.56,328.94 L578.95,328.94 L579.34,328.94 L579.72,328.94 L580.11,328.94 L580.50,328.94 L580.89,328.94 L581.27,328.94 L581.66,328.94 L582.05,328.94 L582.44,328.94 L582.82,328.94 L583.21,328.94 L583.60,328.94 L583.99,328.94 L584.37,328.94 L584.76,328.94 L585.15,328.94 L585.54,328.94 L585.92,328.94 L586.31,328.94 L586.70,328.93 L587.09,328.93 L587.47,328.93 L587.86,328.93 L588.25,328.93 L588.64,328.93 L589.02,328.93 L589.41,328.93 L589.80,328.92 L590.19,328.92 L590.57,328.92 L590.96,328.92 L591.35,328.92 L591.74,328.91 L592.12,328.91 L592.51,328.91 L592.90,328.91 L593.28,328.90 L593.67,328.90 L594.06,328.90 L594.45,328.89 L594.83,328.89 L595.22,328.88 L595.61,328.88 L596.00,328.87 L596.38,328.87 L596.77,328.86 L597.16,328.85 L597.55,328.85 L597.93,328.84 L598.32,328.83 L598.71,328.82 L599.10,328.81 L599.48,328.80 L599.87,328.79 L600.26,328.77 L600.65,328.76 L601.03,328.74 L601.42,328.73 L601.81,328.71 L602.20,328.69 L602.58,328.67 L602.97,328.65 L603.36,328.62 L603.75,328.60 L604.13,328.57 L604.52,328.54 L604.91,328.51 L605.30,328.47 L605.68,328.43 L606.07,328.39 L606.46,328.35 L606.85,328.30 L607.23,328.24 L607.62,328.19 L608.01,328.13 L608.39,328.06 L608.78,327.99 L609.17,327.91 L609.56,327.83 L609.94,327.74 L610.33,327.64 L610.72,327.53 L611.11,327.42 L611.49,327.30 L611.88,327.16 L612.27,327.02 L612.66,326.87 L613.04,326.70 L613.43,326.52 L613.82,326.33 L614.21,326.12 L614.59,325.89 L614.98,325.65 L615.37,325.38 L615.76,325.10 L616.14,324.80 L616.53,324.47 L616.92,324.12 L617.31,323.74 L617.69,323.33 L618.08,322.90 L618.47,322.43 L618.86,321.93 L619.24,321.39 L619.63,320.82 L620.02,320.21 L620.41,319.56 L620.79,318.87 L621.18,318.13 L621.57,317.35 L621.96,316.52 L622.34,315.65 L622.73,314.73 L623.12,313.76 L623.51,312.75 L623.89,311.69 L624.28,310.59 L624.67,309.45 L625.05,308.27 L625.44,307.05 L625.83,305.80 L626.22,304.53 L626.60,303.24 L626.99,301.94 L627.38,300.63 L627.77,299.32 L628.15,298.01 L628.54,296.72 L628.93,295.45 L629.32,294.20 L629.70,292.99 L630.09,291.81 L630.48,290.68 L630.87,289.60 L631.25,288.56 L631.64,287.58 L632.03,286.65 L632.42,285.77 L632.80,284.95 L633.19,284.19 L633.58,283.48 L633.97,282.82 L634.35,282.21 L634.74,281.65 L635.13,281.14 L635.52,280.67 L635.90,280.24 L636.29,279.85 L636.68,279.49 L637.07,279.17 L637.45,278.87 L637.84,278.61 L638.23,278.37 L638.62,278.15 L639.00,277.95 L639.39,277.78 L639.78,277.62 L640.16,277.48 L640.55,277.35 L640.94,277.23 L641.33,277.13 L641.71,277.04 L642.10,276.95 L642.49,276.88 L642.88,276.81 L643.26,276.75 L643.65,276.70 L644.04,276.65 L644.43,276.61 L644.81,276.57 L645.20,276.54 L645.59,276.51 L645.98,276.48 L646.36,276.45 L646.75,276.43 L647.14,276.41 L647.53,276.39 L647.91,276.38 L648.30,276.37 L648.69,276.35 L649.08,276.34 L649.46,276.33 L649.85,276.32 L650.24,276.31 L650.63,276.31 L651.01,276.30 L651.40,276.30 L651.79,276.29 L652.18,276.29 L652.56,276.28 L652.95,276.28 L653.34,276.28 L653.73,276.27 L654.11,276.27 L654.50,276.27" stroke="#000" stroke-width="1.15" fill="none" stroke-linejoin="round"/>
<path d="M594.60,326.50L594.60,331.50M592.20,331.50L597.00,331.50M592.20,326.50L597.00,326.50M611.60,321.60L611.60,325.40M609.20,325.40L614.00,325.40M609.20,321.60L614.00,321.60M620.40,314.50L620.40,322.20M618.00,322.20L622.80,322.20M618.00,314.50L622.80,314.50M628.90,292.00L628.90,299.00M626.50,299.00L631.30,299.00M626.50,292.00L631.30,292.00M637.50,269.20L637.50,277.80M635.10,277.80L639.90,277.80M635.10,269.20L639.90,269.20M646.00,271.20L646.00,281.80M643.60,281.80L648.40,281.80M643.60,271.20L648.40,271.20M654.50,271.70L654.50,288.80M652.10,288.80L656.90,288.80M652.10,271.70L656.90,271.70" stroke="#000" stroke-width="1.0" fill="none"/>
<circle cx="577.40" cy="335.60" r="2.05" fill="#000"/>
<circle cx="586.20" cy="327.30" r="2.05" fill="#000"/>
<circle cx="594.60" cy="329.10" r="2.05" fill="#000"/>
<circle cx="603.20" cy="327.30" r="2.05" fill="#000"/>
<circle cx="611.60" cy="323.80" r="2.05" fill="#000"/>
<circle cx="620.40" cy="318.10" r="2.05" fill="#000"/>
<circle cx="628.90" cy="295.50" r="2.05" fill="#000"/>
<circle cx="637.50" cy="273.50" r="2.05" fill="#000"/>
<circle cx="646.00" cy="276.50" r="2.05" fill="#000"/>
<circle cx="654.50" cy="280.40" r="2.05" fill="#000"/>
<text transform="translate(587.00,236.60) scale(1,1.04)" font-size="13" font-weight="normal" text-anchor="start" fill="#000" >GSK’843</text>
<text transform="translate(584.80,251.40) scale(1,1.04)" font-size="10.4" font-weight="normal" text-anchor="start" fill="#000" >IC50=993nM</text>
<path d="M24.00,431.40L24.00,525.60L165.00,525.60" stroke="#1a1a1a" stroke-width="1.6" fill="none" stroke-linejoin="miter"/>
<path d="M20.40,525.50L24.00,525.50M20.40,506.50L24.00,506.50M20.40,488.50L24.00,488.50M20.40,469.50L24.00,469.50M20.40,450.50L24.00,450.50M20.40,431.50L24.00,431.50M24.50,525.60L24.50,529.20M59.50,525.60L59.50,529.20M94.50,525.60L94.50,529.20M129.50,525.60L129.50,529.20M164.50,525.60L164.50,529.20" stroke="#1a1a1a" stroke-width="1.1" fill="none"/>
<text transform="translate(19.10,528.59) scale(1,1.04)" font-size="8.3" font-weight="bold" text-anchor="end" textLength="4.19" lengthAdjust="spacingAndGlyphs" fill="#111" stroke="#111" stroke-width="0.3">0</text>
<text transform="translate(19.10,509.85) scale(1,1.04)" font-size="8.3" font-weight="bold" text-anchor="end" textLength="8.38" lengthAdjust="spacingAndGlyphs" fill="#111" stroke="#111" stroke-width="0.3">20</text>
<text transform="translate(19.10,491.11) scale(1,1.04)" font-size="8.3" font-weight="bold" text-anchor="end" textLength="8.38" lengthAdjust="spacingAndGlyphs" fill="#111" stroke="#111" stroke-width="0.3">40</text>
<text transform="translate(19.10,472.37) scale(1,1.04)" font-size="8.3" font-weight="bold" text-anchor="end" textLength="8.38" lengthAdjust="spacingAndGlyphs" fill="#111" stroke="#111" stroke-width="0.3">60</text>
<text transform="translate(19.10,453.63) scale(1,1.04)" font-size="8.3" font-weight="bold" text-anchor="end" textLength="8.38" lengthAdjust="spacingAndGlyphs" fill="#111" stroke="#111" stroke-width="0.3">80</text>
<text transform="translate(19.10,434.89) scale(1,1.04)" font-size="8.3" font-weight="bold" text-anchor="end" textLength="12.57" lengthAdjust="spacingAndGlyphs" fill="#111" stroke="#111" stroke-width="0.3">100</text>
<text transform="translate(22.75,537.60) scale(1,1.04)" font-size="8.3" font-weight="bold" text-anchor="middle" textLength="6.70" lengthAdjust="spacingAndGlyphs" fill="#111" stroke="#111" stroke-width="0.3">-2</text>
<text transform="translate(57.90,537.60) scale(1,1.04)" font-size="8.3" font-weight="bold" text-anchor="middle" textLength="6.70" lengthAdjust="spacingAndGlyphs" fill="#111" stroke="#111" stroke-width="0.3">-1</text>
<text transform="translate(94.30,537.60) scale(1,1.04)" font-size="8.3" font-weight="bold" text-anchor="middle" textLength="4.19" lengthAdjust="spacingAndGlyphs" fill="#111" stroke="#111" stroke-width="0.3">0</text>
<text transform="translate(129.45,537.60) scale(1,1.04)" font-size="8.3" font-weight="bold" text-anchor="middle" textLength="4.19" lengthAdjust="spacingAndGlyphs" fill="#111" stroke="#111" stroke-width="0.3">1</text>
<text transform="translate(164.60,537.60) scale(1,1.04)" font-size="8.3" font-weight="bold" text-anchor="middle" textLength="4.19" lengthAdjust="spacingAndGlyphs" fill="#111" stroke="#111" stroke-width="0.3">2</text>
<text transform="translate(48.10,545.70) scale(1,1.04)" font-size="7.3" font-weight="bold" textLength="90.2" lengthAdjust="spacingAndGlyphs" fill="#111">Log[concentration] [nM]</text>
<text transform="translate(5.00,477.70) rotate(-90) scale(1,1.04)" font-size="7.3" font-weight="bold" text-anchor="middle" textLength="60" lengthAdjust="spacingAndGlyphs" fill="#111">Cell viability (%)</text>
<path d="M44.80,516.88 L45.34,516.78 L45.87,516.67 L46.41,516.57 L46.94,516.46 L47.48,516.36 L48.02,516.24 L48.55,516.13 L49.09,516.01 L49.63,515.89 L50.16,515.77 L50.70,515.65 L51.23,515.52 L51.77,515.39 L52.31,515.25 L52.84,515.12 L53.38,514.97 L53.92,514.83 L54.45,514.68 L54.99,514.53 L55.52,514.38 L56.06,514.22 L56.60,514.06 L57.13,513.90 L57.67,513.73 L58.20,513.56 L58.74,513.38 L59.28,513.21 L59.81,513.02 L60.35,512.84 L60.89,512.64 L61.42,512.45 L61.96,512.25 L62.49,512.04 L63.03,511.84 L63.57,511.62 L64.10,511.41 L64.64,511.18 L65.17,510.96 L65.71,510.73 L66.25,510.49 L66.78,510.25 L67.32,510.00 L67.86,509.75 L68.39,509.49 L68.93,509.23 L69.46,508.97 L70.00,508.69 L70.54,508.42 L71.07,508.13 L71.61,507.84 L72.15,507.55 L72.68,507.25 L73.22,506.94 L73.75,506.63 L74.29,506.31 L74.83,505.99 L75.36,505.66 L75.90,505.32 L76.43,504.98 L76.97,504.64 L77.51,504.28 L78.04,503.92 L78.58,503.55 L79.12,503.18 L79.65,502.80 L80.19,502.41 L80.72,502.02 L81.26,501.62 L81.80,501.22 L82.33,500.80 L82.87,500.38 L83.41,499.96 L83.94,499.53 L84.48,499.09 L85.01,498.64 L85.55,498.19 L86.09,497.73 L86.62,497.26 L87.16,496.79 L87.69,496.31 L88.23,495.82 L88.77,495.33 L89.30,494.83 L89.84,494.33 L90.38,493.81 L90.91,493.30 L91.45,492.77 L91.98,492.24 L92.52,491.70 L93.06,491.16 L93.59,490.61 L94.13,490.05 L94.66,489.49 L95.20,488.92 L95.74,488.35 L96.27,487.77 L96.81,487.19 L97.35,486.60 L97.88,486.00 L98.42,485.40 L98.95,484.79 L99.49,484.18 L100.03,483.57 L100.56,482.95 L101.10,482.33 L101.64,481.70 L102.17,481.07 L102.71,480.43 L103.24,479.79 L103.78,479.15 L104.32,478.50 L104.85,477.85 L105.39,477.20 L105.92,476.54 L106.46,475.89 L107.00,475.23 L107.53,474.56 L108.07,473.90 L108.61,473.24 L109.14,472.57 L109.68,471.90 L110.21,471.23 L110.75,470.57 L111.29,469.90 L111.82,469.23 L112.36,468.56 L112.89,467.89 L113.43,467.22 L113.97,466.55 L114.50,465.88 L115.04,465.22 L115.58,464.55 L116.11,463.89 L116.65,463.23 L117.18,462.57 L117.72,461.92 L118.26,461.26 L118.79,460.61 L119.33,459.96 L119.87,459.32 L120.40,458.68 L120.94,458.04 L121.47,457.41 L122.01,456.78 L122.55,456.15 L123.08,455.53 L123.62,454.91 L124.15,454.30 L124.69,453.69 L125.23,453.09 L125.76,452.49 L126.30,451.90 L126.84,451.32 L127.37,450.73 L127.91,450.16 L128.44,449.59 L128.98,449.03 L129.52,448.47 L130.05,447.92 L130.59,447.37 L131.13,446.84 L131.66,446.30 L132.20,445.78 L132.73,445.26 L133.27,444.75 L133.81,444.24 L134.34,443.74 L134.88,443.25 L135.41,442.76 L135.95,442.28 L136.49,441.81 L137.02,441.35 L137.56,440.89 L138.10,440.44 L138.63,439.99 L139.17,439.56 L139.70,439.13 L140.24,438.70 L140.78,438.29 L141.31,437.88 L141.85,437.47 L142.38,437.08 L142.92,436.69 L143.46,436.31 L143.99,435.93 L144.53,435.56 L145.07,435.20 L145.60,434.84 L146.14,434.49 L146.67,434.15 L147.21,433.81 L147.75,433.48 L148.28,433.16 L148.82,432.84 L149.36,432.53 L149.89,432.22 L150.43,431.92 L150.96,431.63 L151.50,431.34" stroke="#000" stroke-width="1.5" fill="none" stroke-linejoin="round"/>
<path d="M55.50,511.40L55.50,515.00M53.10,515.00L57.90,515.00M53.10,511.40L57.90,511.40M76.50,500.50L76.50,504.70M74.10,504.70L78.90,504.70M74.10,500.50L78.90,500.50M87.20,495.30L87.20,502.50M84.80,502.50L89.60,502.50M84.80,495.30L89.60,495.30M108.10,469.30L108.10,477.30M105.70,477.30L110.50,477.30M105.70,469.30L110.50,469.30M118.70,457.30L118.70,464.60M116.30,464.60L121.10,464.60M116.30,457.30L121.10,457.30M129.10,442.50L129.10,454.00M126.70,454.00L131.50,454.00M126.70,442.50L131.50,442.50M139.70,432.40L139.70,446.40M137.30,446.40L142.10,446.40M137.30,432.40L142.10,432.40M153.90,431.90L153.90,441.40M151.50,441.40L156.30,441.40" stroke="#000" stroke-width="1.0" fill="none"/>
<circle cx="44.80" cy="517.80" r="2.05" fill="#000"/>
<circle cx="55.50" cy="513.40" r="2.05" fill="#000"/>
<circle cx="66.00" cy="511.70" r="2.05" fill="#000"/>
<circle cx="76.50" cy="502.70" r="2.05" fill="#000"/>
<circle cx="87.20" cy="498.60" r="2.05" fill="#000"/>
<circle cx="97.40" cy="488.40" r="2.05" fill="#000"/>
<circle cx="108.10" cy="473.20" r="2.05" fill="#000"/>
<circle cx="118.70" cy="460.90" r="2.05" fill="#000"/>
<circle cx="129.10" cy="448.90" r="2.05" fill="#000"/>
<circle cx="139.70" cy="439.40" r="2.05" fill="#000"/>
<circle cx="153.90" cy="435.10" r="2.05" fill="#000"/>
<text transform="translate(67.00,419.00) scale(1,1.04)" font-size="13" font-weight="normal" text-anchor="start" fill="#000" >GSK’067</text>
<text transform="translate(70.00,433.10) scale(1,1.04)" font-size="10.4" font-weight="normal" text-anchor="start" fill="#000" >IC50=3nM</text>
<path d="M196.00,431.10L196.00,525.80L337.70,525.80" stroke="#1a1a1a" stroke-width="1.6" fill="none" stroke-linejoin="miter"/>
<path d="M192.40,525.50L196.00,525.50M192.40,506.50L196.00,506.50M192.40,488.50L196.00,488.50M192.40,469.50L196.00,469.50M192.40,450.50L196.00,450.50M192.40,431.50L196.00,431.50M195.50,525.80L195.50,529.40M231.50,525.80L231.50,529.40M266.50,525.80L266.50,529.40M301.50,525.80L301.50,529.40M337.50,525.80L337.50,529.40" stroke="#1a1a1a" stroke-width="1.1" fill="none"/>
<text transform="translate(191.10,528.79) scale(1,1.04)" font-size="8.3" font-weight="bold" text-anchor="end" textLength="4.19" lengthAdjust="spacingAndGlyphs" fill="#111" stroke="#111" stroke-width="0.3">0</text>
<text transform="translate(191.10,509.95) scale(1,1.04)" font-size="8.3" font-weight="bold" text-anchor="end" textLength="8.38" lengthAdjust="spacingAndGlyphs" fill="#111" stroke="#111" stroke-width="0.3">20</text>
<text transform="translate(191.10,491.11) scale(1,1.04)" font-size="8.3" font-weight="bold" text-anchor="end" textLength="8.38" lengthAdjust="spacingAndGlyphs" fill="#111" stroke="#111" stroke-width="0.3">40</text>
<text transform="translate(191.10,472.27) scale(1,1.04)" font-size="8.3" font-weight="bold" text-anchor="end" textLength="8.38" lengthAdjust="spacingAndGlyphs" fill="#111" stroke="#111" stroke-width="0.3">60</text>
<text transform="translate(191.10,453.43) scale(1,1.04)" font-size="8.3" font-weight="bold" text-anchor="end" textLength="8.38" lengthAdjust="spacingAndGlyphs" fill="#111" stroke="#111" stroke-width="0.3">80</text>
<text transform="translate(191.10,434.59) scale(1,1.04)" font-size="8.3" font-weight="bold" text-anchor="end" textLength="12.57" lengthAdjust="spacingAndGlyphs" fill="#111" stroke="#111" stroke-width="0.3">100</text>
<text transform="translate(194.55,537.60) scale(1,1.04)" font-size="8.3" font-weight="bold" text-anchor="middle" textLength="6.70" lengthAdjust="spacingAndGlyphs" fill="#111" stroke="#111" stroke-width="0.3">-2</text>
<text transform="translate(229.92,537.60) scale(1,1.04)" font-size="8.3" font-weight="bold" text-anchor="middle" textLength="6.70" lengthAdjust="spacingAndGlyphs" fill="#111" stroke="#111" stroke-width="0.3">-1</text>
<text transform="translate(266.55,537.60) scale(1,1.04)" font-size="8.3" font-weight="bold" text-anchor="middle" textLength="4.19" lengthAdjust="spacingAndGlyphs" fill="#111" stroke="#111" stroke-width="0.3">0</text>
<text transform="translate(301.93,537.60) scale(1,1.04)" font-size="8.3" font-weight="bold" text-anchor="middle" textLength="4.19" lengthAdjust="spacingAndGlyphs" fill="#111" stroke="#111" stroke-width="0.3">1</text>
<text transform="translate(337.30,537.60) scale(1,1.04)" font-size="8.3" font-weight="bold" text-anchor="middle" textLength="4.19" lengthAdjust="spacingAndGlyphs" fill="#111" stroke="#111" stroke-width="0.3">2</text>
<text transform="translate(220.20,545.70) scale(1,1.04)" font-size="7.3" font-weight="bold" textLength="90.2" lengthAdjust="spacingAndGlyphs" fill="#111">Log[concentration] [nM]</text>
<text transform="translate(177.00,477.60) rotate(-90) scale(1,1.04)" font-size="7.3" font-weight="bold" text-anchor="middle" textLength="60" lengthAdjust="spacingAndGlyphs" fill="#111">Cell viability (%)</text>
<path d="M227.40,502.36 L227.83,502.36 L228.26,502.36 L228.69,502.35 L229.11,502.35 L229.54,502.35 L229.97,502.34 L230.40,502.34 L230.83,502.33 L231.26,502.33 L231.69,502.32 L232.12,502.31 L232.54,502.31 L232.97,502.30 L233.40,502.29 L233.83,502.29 L234.26,502.28 L234.69,502.27 L235.12,502.26 L235.54,502.25 L235.97,502.24 L236.40,502.23 L236.83,502.22 L237.26,502.21 L237.69,502.19 L238.12,502.18 L238.54,502.17 L238.97,502.15 L239.40,502.14 L239.83,502.12 L240.26,502.10 L240.69,502.09 L241.12,502.07 L241.55,502.05 L241.97,502.03 L242.40,502.00 L242.83,501.98 L243.26,501.95 L243.69,501.93 L244.12,501.90 L244.55,501.87 L244.97,501.84 L245.40,501.81 L245.83,501.77 L246.26,501.74 L246.69,501.70 L247.12,501.66 L247.55,501.61 L247.97,501.57 L248.40,501.52 L248.83,501.47 L249.26,501.42 L249.69,501.36 L250.12,501.30 L250.55,501.24 L250.98,501.18 L251.40,501.11 L251.83,501.04 L252.26,500.96 L252.69,500.88 L253.12,500.80 L253.55,500.71 L253.98,500.62 L254.40,500.52 L254.83,500.42 L255.26,500.31 L255.69,500.20 L256.12,500.08 L256.55,499.96 L256.98,499.82 L257.41,499.69 L257.83,499.54 L258.26,499.39 L258.69,499.23 L259.12,499.07 L259.55,498.90 L259.98,498.71 L260.41,498.52 L260.83,498.32 L261.26,498.12 L261.69,497.90 L262.12,497.67 L262.55,497.43 L262.98,497.18 L263.41,496.93 L263.83,496.66 L264.26,496.37 L264.69,496.08 L265.12,495.78 L265.55,495.46 L265.98,495.13 L266.41,494.79 L266.84,494.43 L267.26,494.06 L267.69,493.68 L268.12,493.28 L268.55,492.87 L268.98,492.44 L269.41,492.00 L269.84,491.54 L270.26,491.07 L270.69,490.59 L271.12,490.09 L271.55,489.58 L271.98,489.05 L272.41,488.50 L272.84,487.94 L273.26,487.37 L273.69,486.78 L274.12,486.18 L274.55,485.56 L274.98,484.93 L275.41,484.29 L275.84,483.63 L276.27,482.96 L276.69,482.28 L277.12,481.59 L277.55,480.88 L277.98,480.17 L278.41,479.45 L278.84,478.72 L279.27,477.98 L279.69,477.23 L280.12,476.47 L280.55,475.71 L280.98,474.95 L281.41,474.18 L281.84,473.40 L282.27,472.63 L282.69,471.85 L283.12,471.07 L283.55,470.29 L283.98,469.51 L284.41,468.74 L284.84,467.97 L285.27,467.20 L285.70,466.43 L286.12,465.67 L286.55,464.91 L286.98,464.17 L287.41,463.43 L287.84,462.69 L288.27,461.97 L288.70,461.25 L289.12,460.55 L289.55,459.85 L289.98,459.17 L290.41,458.49 L290.84,457.83 L291.27,457.18 L291.70,456.55 L292.13,455.92 L292.55,455.31 L292.98,454.71 L293.41,454.13 L293.84,453.55 L294.27,453.00 L294.70,452.45 L295.13,451.92 L295.55,451.40 L295.98,450.90 L296.41,450.41 L296.84,449.94 L297.27,449.47 L297.70,449.02 L298.13,448.59 L298.55,448.17 L298.98,447.76 L299.41,447.36 L299.84,446.97 L300.27,446.60 L300.70,446.24 L301.13,445.89 L301.56,445.56 L301.98,445.23 L302.41,444.92 L302.84,444.62 L303.27,444.32 L303.70,444.04 L304.13,443.77 L304.56,443.51 L304.98,443.25 L305.41,443.01 L305.84,442.78 L306.27,442.55 L306.70,442.33 L307.13,442.12 L307.56,441.92 L307.98,441.73 L308.41,441.54 L308.84,441.36 L309.27,441.19 L309.70,441.03 L310.13,440.87 L310.56,440.72 L310.99,440.57 L311.41,440.43 L311.84,440.30 L312.27,440.17 L312.70,440.04" stroke="#000" stroke-width="1.15" fill="none" stroke-linejoin="round"/>
<path d="M227.40,500.40L227.40,506.40M225.00,506.40L229.80,506.40M225.00,500.40L229.80,500.40M238.40,498.70L238.40,506.10M236.00,506.10L240.80,506.10M236.00,498.70L240.80,498.70M259.40,495.40L259.40,500.40M257.00,500.40L261.80,500.40M257.00,495.40L261.80,495.40M291.30,456.30L291.30,461.30M288.90,461.30L293.70,461.30M288.90,456.30L293.70,456.30M312.70,439.50L312.70,444.40M310.30,444.40L315.10,444.40M310.30,439.50L315.10,439.50" stroke="#000" stroke-width="1.0" fill="none"/>
<circle cx="227.40" cy="503.40" r="2.05" fill="#000"/>
<circle cx="238.40" cy="502.30" r="2.05" fill="#000"/>
<circle cx="259.40" cy="498.20" r="2.05" fill="#000"/>
<circle cx="269.80" cy="493.00" r="2.05" fill="#000"/>
<circle cx="280.60" cy="474.40" r="2.05" fill="#000"/>
<circle cx="291.30" cy="458.80" r="2.05" fill="#000"/>
<circle cx="302.10" cy="442.50" r="2.05" fill="#000"/>
<circle cx="312.70" cy="442.00" r="2.05" fill="#000"/>
<text transform="translate(236.20,419.00) scale(1,1.04)" font-size="13" font-weight="normal" text-anchor="start" fill="#000" >GSK’074</text>
<text transform="translate(237.80,434.00) scale(1,1.04)" font-size="10.4" font-weight="normal" text-anchor="start" fill="#000" >IC50=3nM</text>
<path d="M368.40,431.50L368.40,526.40L510.70,526.40" stroke="#1a1a1a" stroke-width="1.6" fill="none" stroke-linejoin="miter"/>
<path d="M364.80,526.50L368.40,526.50M364.80,507.50L368.40,507.50M364.80,488.50L368.40,488.50M364.80,469.50L368.40,469.50M364.80,450.50L368.40,450.50M364.80,432.50L368.40,432.50M368.50,526.40L368.50,530.00M403.50,526.40L403.50,530.00M439.50,526.40L439.50,530.00M474.50,526.40L474.50,530.00M510.50,526.40L510.50,530.00" stroke="#1a1a1a" stroke-width="1.1" fill="none"/>
<text transform="translate(364.40,528.92) scale(1,1.04)" font-size="7.0" font-weight="bold" text-anchor="end" textLength="3.62" lengthAdjust="spacingAndGlyphs" fill="#111" stroke="#111" stroke-width="0.3">0</text>
<text transform="translate(364.40,510.04) scale(1,1.04)" font-size="7.0" font-weight="bold" text-anchor="end" textLength="7.24" lengthAdjust="spacingAndGlyphs" fill="#111" stroke="#111" stroke-width="0.3">20</text>
<text transform="translate(364.40,491.16) scale(1,1.04)" font-size="7.0" font-weight="bold" text-anchor="end" textLength="7.24" lengthAdjust="spacingAndGlyphs" fill="#111" stroke="#111" stroke-width="0.3">40</text>
<text transform="translate(364.40,472.28) scale(1,1.04)" font-size="7.0" font-weight="bold" text-anchor="end" textLength="7.24" lengthAdjust="spacingAndGlyphs" fill="#111" stroke="#111" stroke-width="0.3">60</text>
<text transform="translate(364.40,453.40) scale(1,1.04)" font-size="7.0" font-weight="bold" text-anchor="end" textLength="7.24" lengthAdjust="spacingAndGlyphs" fill="#111" stroke="#111" stroke-width="0.3">80</text>
<text transform="translate(364.40,434.52) scale(1,1.04)" font-size="7.0" font-weight="bold" text-anchor="end" textLength="10.86" lengthAdjust="spacingAndGlyphs" fill="#111" stroke="#111" stroke-width="0.3">100</text>
<text transform="translate(368.30,537.60) scale(1,1.04)" font-size="7.0" font-weight="bold" text-anchor="middle" textLength="3.62" lengthAdjust="spacingAndGlyphs" fill="#111" stroke="#111" stroke-width="0.3">1</text>
<text transform="translate(403.80,537.60) scale(1,1.04)" font-size="7.0" font-weight="bold" text-anchor="middle" textLength="3.62" lengthAdjust="spacingAndGlyphs" fill="#111" stroke="#111" stroke-width="0.3">2</text>
<text transform="translate(439.30,537.60) scale(1,1.04)" font-size="7.0" font-weight="bold" text-anchor="middle" textLength="3.62" lengthAdjust="spacingAndGlyphs" fill="#111" stroke="#111" stroke-width="0.3">3</text>
<text transform="translate(474.80,537.60) scale(1,1.04)" font-size="7.0" font-weight="bold" text-anchor="middle" textLength="3.62" lengthAdjust="spacingAndGlyphs" fill="#111" stroke="#111" stroke-width="0.3">4</text>
<text transform="translate(510.30,537.60) scale(1,1.04)" font-size="7.0" font-weight="bold" text-anchor="middle" textLength="3.62" lengthAdjust="spacingAndGlyphs" fill="#111" stroke="#111" stroke-width="0.3">5</text>
<text transform="translate(395.90,545.70) scale(1,1.04)" font-size="7.3" font-weight="bold" textLength="90.2" lengthAdjust="spacingAndGlyphs" fill="#111">Log[concentration] [nM]</text>
<text transform="translate(348.10,479.00) rotate(-90) scale(1,1.04)" font-size="6.8" font-weight="bold" text-anchor="middle" textLength="56.5" lengthAdjust="spacingAndGlyphs" fill="#111">Cell viability (%)</text>
<path d="M403.50,521.90 L403.98,521.88 L404.47,521.86 L404.95,521.84 L405.44,521.83 L405.92,521.81 L406.41,521.78 L406.89,521.76 L407.38,521.74 L407.86,521.71 L408.34,521.69 L408.83,521.66 L409.31,521.63 L409.80,521.60 L410.28,521.57 L410.77,521.53 L411.25,521.49 L411.74,521.46 L412.22,521.42 L412.70,521.37 L413.19,521.33 L413.67,521.28 L414.16,521.23 L414.64,521.18 L415.13,521.12 L415.61,521.06 L416.09,521.00 L416.58,520.94 L417.06,520.87 L417.55,520.80 L418.03,520.72 L418.52,520.64 L419.00,520.55 L419.49,520.46 L419.97,520.37 L420.45,520.27 L420.94,520.17 L421.42,520.06 L421.91,519.94 L422.39,519.82 L422.88,519.69 L423.36,519.55 L423.85,519.41 L424.33,519.26 L424.81,519.10 L425.30,518.93 L425.78,518.76 L426.27,518.57 L426.75,518.38 L427.24,518.18 L427.72,517.96 L428.21,517.73 L428.69,517.50 L429.17,517.25 L429.66,516.98 L430.14,516.71 L430.63,516.42 L431.11,516.11 L431.60,515.79 L432.08,515.46 L432.57,515.10 L433.05,514.74 L433.53,514.35 L434.02,513.94 L434.50,513.52 L434.99,513.07 L435.47,512.61 L435.96,512.12 L436.44,511.61 L436.93,511.08 L437.41,510.53 L437.89,509.95 L438.38,509.35 L438.86,508.72 L439.35,508.07 L439.83,507.39 L440.32,506.68 L440.80,505.95 L441.28,505.19 L441.77,504.40 L442.25,503.59 L442.74,502.74 L443.22,501.87 L443.71,500.97 L444.19,500.05 L444.68,499.10 L445.16,498.12 L445.64,497.11 L446.13,496.08 L446.61,495.03 L447.10,493.96 L447.58,492.86 L448.07,491.75 L448.55,490.61 L449.04,489.46 L449.52,488.29 L450.00,487.12 L450.49,485.93 L450.97,484.73 L451.46,483.52 L451.94,482.31 L452.43,481.10 L452.91,479.89 L453.40,478.69 L453.88,477.49 L454.36,476.29 L454.85,475.11 L455.33,473.94 L455.82,472.78 L456.30,471.64 L456.79,470.52 L457.27,469.42 L457.76,468.34 L458.24,467.29 L458.72,466.26 L459.21,465.26 L459.69,464.28 L460.18,463.33 L460.66,462.42 L461.15,461.53 L461.63,460.67 L462.12,459.84 L462.60,459.04 L463.08,458.27 L463.57,457.54 L464.05,456.83 L464.54,456.15 L465.02,455.50 L465.51,454.88 L465.99,454.29 L466.47,453.73 L466.96,453.19 L467.44,452.68 L467.93,452.20 L468.41,451.73 L468.90,451.30 L469.38,450.88 L469.87,450.49 L470.35,450.11 L470.83,449.76 L471.32,449.43 L471.80,449.11 L472.29,448.82 L472.77,448.54 L473.26,448.27 L473.74,448.02 L474.23,447.79 L474.71,447.57 L475.19,447.36 L475.68,447.16 L476.16,446.98 L476.65,446.80 L477.13,446.64 L477.62,446.49 L478.10,446.34 L478.59,446.21 L479.07,446.08 L479.55,445.96 L480.04,445.85 L480.52,445.74 L481.01,445.64 L481.49,445.55 L481.98,445.47 L482.46,445.38 L482.95,445.31 L483.43,445.24 L483.91,445.17 L484.40,445.11 L484.88,445.05 L485.37,444.99 L485.85,444.94 L486.34,444.89 L486.82,444.85 L487.31,444.80 L487.79,444.76 L488.27,444.73 L488.76,444.69 L489.24,444.66 L489.73,444.63 L490.21,444.60 L490.70,444.57 L491.18,444.55 L491.66,444.52 L492.15,444.50 L492.63,444.48 L493.12,444.46 L493.60,444.44 L494.09,444.43 L494.57,444.41 L495.06,444.40 L495.54,444.38 L496.02,444.37 L496.51,444.36 L496.99,444.35 L497.48,444.34 L497.96,444.33 L498.45,444.32 L498.93,444.31 L499.42,444.30 L499.90,444.29" stroke="#000" stroke-width="1.4" fill="none" stroke-linejoin="round"/>
<path d="M456.50,471.50L456.50,478.00M454.10,478.00L458.90,478.00M454.10,471.50L458.90,471.50M478.10,434.20L478.10,441.40M475.70,441.40L480.50,441.40M475.70,434.20L480.50,434.20M499.40,468.20L499.40,479.70M497.00,479.70L501.80,479.70M497.00,468.20L501.80,468.20" stroke="#000" stroke-width="1.0" fill="none"/>
<circle cx="403.50" cy="522.30" r="2.05" fill="#000"/>
<circle cx="414.20" cy="521.20" r="2.05" fill="#000"/>
<circle cx="424.80" cy="519.50" r="2.05" fill="#000"/>
<circle cx="435.50" cy="513.20" r="2.05" fill="#000"/>
<circle cx="445.90" cy="496.10" r="2.05" fill="#000"/>
<circle cx="456.50" cy="474.20" r="2.05" fill="#000"/>
<circle cx="467.40" cy="450.10" r="2.05" fill="#000"/>
<circle cx="478.10" cy="438.10" r="2.05" fill="#000"/>
<circle cx="488.80" cy="446.80" r="2.05" fill="#000"/>
<circle cx="499.40" cy="473.90" r="2.05" fill="#000"/>
<text transform="translate(414.90,419.00) scale(1,1.04)" font-size="13" font-weight="normal" text-anchor="start" fill="#000" >GSK’843</text>
<text transform="translate(407.90,434.50) scale(1,1.04)" font-size="10.4" font-weight="normal" text-anchor="start" fill="#000" >IC50=2224nM</text>
</svg>
</body></html>
